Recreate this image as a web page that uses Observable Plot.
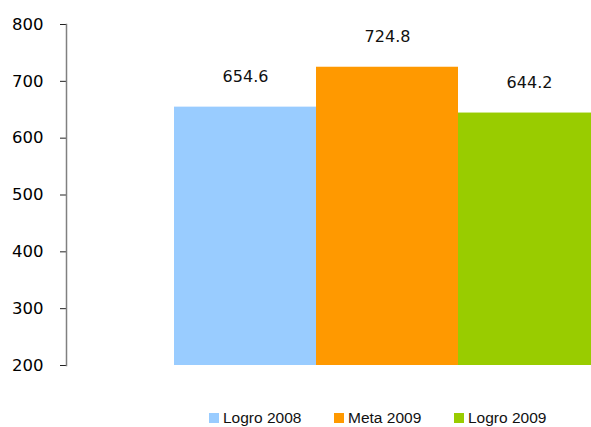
<!DOCTYPE html>
<html>
<head>
<meta charset="utf-8">
<script src="https://cdn.jsdelivr.net/npm/d3@7"></script>
<script src="https://cdn.jsdelivr.net/npm/@observablehq/plot@0.6"></script>
<style>
  html, body { margin: 0; padding: 0; background: #fff; overflow: hidden; }
  #chart { position: relative; width: 591px; height: 427px; }
  #legend { position: absolute; top: 405px; left: 0; width: 591px; height: 22px;
    font-family: "Liberation Sans", Arial, sans-serif; font-size: 15.5px; color: #111; }
  .item { position: absolute; top: 4px; display: flex; align-items: center; white-space: nowrap; }
  .sw { width: 10px; height: 10px; margin-right: 4px; display: inline-block; }
</style>
</head>
<body>
<div id="chart"></div>
<script>
const categories = ["Logro 2008", "Meta 2009", "Logro 2009"];
const values = [654.6, 724.8, 644.2];
const colors = ["#99CCFF", "#FF9900", "#99CC00"];
const yTicks = [200, 300, 400, 500, 600, 700, 800];

const data = categories.map((c, i) => ({category: c, value: values[i], color: colors[i]}));

const plot = Plot.plot({
  width: 591,
  height: 395,
  marginTop: 24,
  marginBottom: 30,
  marginLeft: 66,
  marginRight: 0,
  style: {fontFamily: "DejaVu Sans, sans-serif", fontSize: "16px", color: "#000", overflow: "hidden"},
  x: {domain: categories, range: [173, 600], padding: 0, axis: null},
  y: {domain: [200, 800], ticks: yTicks},
  marks: [
    Plot.barY(data, {x: "category", y1: 200, y2: "value", fill: "color"}),
    Plot.axisY({ticks: yTicks, tickSize: 6, tickPadding: 17, tickFormat: d => String(d), label: null, stroke: "#222", fill: "#000", fontSize: 16.5}),
    Plot.frame({anchor: "left", stroke: "#808080", strokeWidth: 1.5}),
    Plot.text(data, {x: "category", y: "value", text: d => d.value.toFixed(1), dy: -30, fontSize: 16, fill: "#111", fontFamily: "DejaVu Sans, sans-serif"})
  ]
});
const chart = document.getElementById("chart");
chart.appendChild(plot);

const legend = document.createElement("div");
legend.id = "legend";
const lefts = [209, 334, 454];
categories.forEach((c, i) => {
  const it = document.createElement("div");
  it.className = "item";
  it.style.left = lefts[i] + "px";
  const sw = document.createElement("span");
  sw.className = "sw";
  sw.style.background = colors[i];
  it.appendChild(sw);
  const t = document.createElement("span");
  t.textContent = c;
  it.appendChild(t);
  legend.appendChild(it);
});
chart.appendChild(legend);
</script>
</body>
</html>
